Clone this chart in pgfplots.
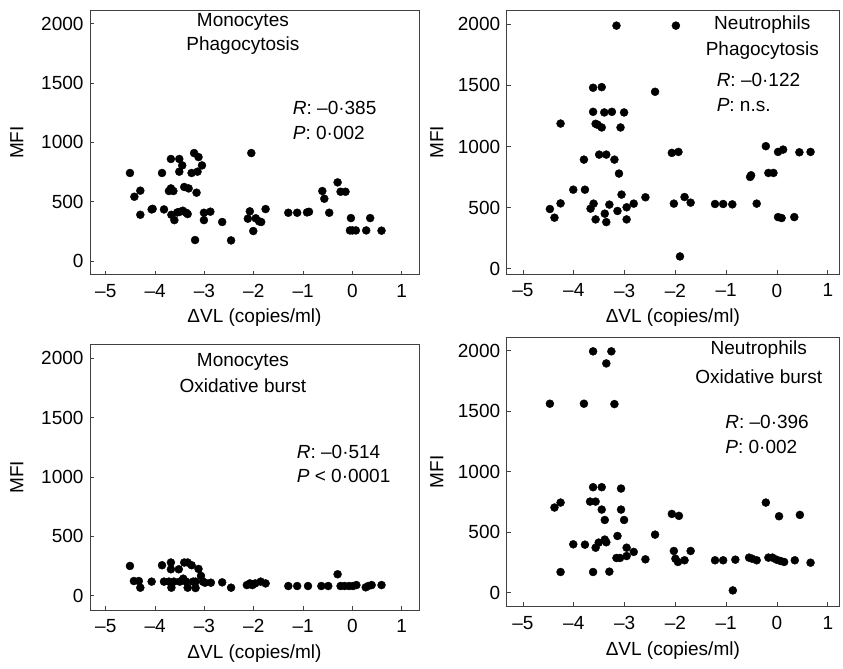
\documentclass[border=0pt]{standalone}
\usepackage{fontspec}
\setmainfont{Liberation Sans}
\usepackage{pgfplots}
\pgfplotsset{compat=1.18}

\pgfplotsset{
  panel/.style={
    scale only axis, anchor=south west,
    xmin=-5.32, xmax=1.35,
    tick align=inside, tick pos=left,
    major tick length=4pt,
    axis line style={black!75, line width=0.9pt},
    tick style={black!75, line width=0.9pt},
    xtick={-5,-4,-3,-2,-1,0,1},
    xticklabels={–5,–4,–3,–2,–1,0,1},
    ytick={0,500,1000,1500,2000},
    yticklabels={0,500,1000,1500,2000},
    xticklabel style={yshift=-3pt},
    xlabel={ΔVL (copies/ml)},
    ylabel={MFI},
    xlabel style={at={(axis description cs:0.5,-0.163)}, anchor=center},
    ylabel style={at={(axis description cs:-0.222,0.5)}, anchor=center},
    clip=false,
  },
  dots/.style={only marks, mark=*, mark size=4pt, black},
}

\begin{document}
\fontsize{19}{22}\selectfont
\begin{tikzpicture}
\path (0,0) rectangle (843pt,661pt);

% top left
\begin{axis}[panel, at={(90pt,386.3pt)}, width=329pt, height=264.4pt,
  ymin=-115, ymax=2113]
\addplot[dots] coordinates {
(-4.51,742) (-4.42,542) (-4.30,593) (-4.30,390) (-4.07,435) (-4.05,440)
(-3.86,742) (-3.82,435) (-3.72,590) (-3.68,612) (-3.63,590) (-3.68,860)
(-3.67,390) (-3.61,345) (-3.55,410) (-3.51,413) (-3.44,424) (-3.37,407)
(-3.34,396) (-3.51,860) (-3.45,806) (-3.51,753) (-3.41,624) (-3.32,612)
(-3.26,742) (-3.21,910) (-3.12,876) (-3.05,806) (-3.14,753) (-3.19,177)
(-3.16,576) (-3.01,407) (-3.01,345) (-2.88,416) (-2.64,329) (-2.46,174)
(-2.12,357) (-2.08,419) (-2.05,910) (-2.01,253) (-1.96,360) (-1.89,334)
(-1.85,329) (-1.76,438) (-1.30,407) (-1.12,407) (-0.92,410) (-0.88,415)
(-0.61,590) (-0.57,525) (-0.47,407) (-0.30,663) (-0.24,584) (-0.14,584)
(-0.03,362) (-0.05,258) (0.00,258) (0.07,258) (0.28,258) (0.36,362)
(0.59,256)
};
\node at (axis cs:-2.22,2015) {Monocytes};
\node at (axis cs:-2.22,1812) {Phagocytosis};
\node[anchor=west, inner sep=0pt] at (axis cs:-1.21,1290) {\textit{R}: –0·385};
\node[anchor=west, inner sep=0pt] at (axis cs:-1.21,1077) {\textit{P}: 0·002};
\end{axis}

% top right
\begin{axis}[panel, at={(506.7pt,386.7pt)}, width=332.3pt, height=264.3pt,
  xmax=1.22, ymin=-45, ymax=2117,
  ylabel style={at={(axis description cs:-0.21,0.5)}}]
\addplot[dots] coordinates {
(-4.47,489) (-4.38,418) (-4.26,535) (-4.26,1188) (-4.01,647) (-3.80,893)
(-3.78,647) (-3.67,492) (-3.61,533) (-3.62,1481) (-3.45,1486) (-3.62,1284)
(-3.57,1186) (-3.53,1178) (-3.45,1156) (-3.40,1279) (-3.25,1284) (-3.01,1279)
(-3.08,1156) (-3.50,934) (-3.36,934) (-3.20,893) (-3.11,779) (-3.06,607)
(-3.57,404) (-3.39,451) (-3.36,382) (-3.30,525) (-3.14,473) (-2.96,503)
(-2.96,404) (-2.82,533) (-2.59,585) (-3.16,1989) (-2.40,1448) (-1.99,1989)
(-2.07,948) (-1.94,956) (-2.03,533) (-1.91,101) (-1.82,587) (-1.70,541)
(-1.22,530) (-1.06,530) (-0.88,527) (-0.53,751) (-0.51,765) (-0.40,533)
(-0.22,1003) (-0.17,784) (-0.07,784) (0.02,956) (0.12,975) (0.02,423)
(0.09,415) (0.34,423) (0.44,953) (0.66,956)
};
\node at (axis cs:-0.29,1994) {Neutrophils};
\node at (axis cs:-0.29,1789) {Phagocytosis};
\node[anchor=west, inner sep=0pt] at (axis cs:-1.19,1545) {\textit{R}: –0·122};
\node[anchor=west, inner sep=0pt] at (axis cs:-1.19,1339) {\textit{P}: n.s.};
\end{axis}

% bottom left
\begin{axis}[panel, at={(90pt,51pt)}, width=329pt, height=265.3pt,
  ymin=-120, ymax=2115]
\addplot[dots] coordinates {
(-4.51,251) (-4.43,124) (-4.33,124) (-4.30,68) (-4.07,119) (-3.86,257)
(-3.82,119) (-3.68,280) (-3.68,223) (-3.72,119) (-3.62,119) (-3.67,68)
(-3.52,223) (-3.50,119) (-3.43,144) (-3.37,119) (-3.41,280) (-3.34,280)
(-3.34,68) (-3.26,257) (-3.12,226) (-3.23,119) (-3.18,119) (-3.07,167)
(-3.18,65) (-3.03,119) (-2.99,110) (-2.87,110) (-2.64,113) (-2.46,68)
(-2.14,90) (-2.08,104) (-2.03,90) (-1.97,104) (-1.86,119) (-1.76,104)
(-1.30,82) (-1.12,82) (-0.90,82) (-0.63,82) (-0.49,82) (-0.30,181)
(-0.24,82) (-0.16,82) (-0.07,82) (0.01,82) (0.08,90) (0.27,71)
(0.32,82) (0.39,90) (0.59,90)
};
\node at (axis cs:-2.22,1969) {Monocytes};
\node at (axis cs:-2.22,1767) {Oxidative burst};
\node[anchor=west, inner sep=0pt] at (axis cs:-1.13,1211) {\textit{R}: –0·514};
\node[anchor=west, inner sep=0pt] at (axis cs:-1.13,1009) {\textit{P} < 0·0001};
\end{axis}

% bottom right
\begin{axis}[panel, at={(506.7pt,54.5pt)}, width=332.3pt, height=269.2pt,
  xmax=1.22, ymin=-114, ymax=2111,
  ylabel style={at={(axis description cs:-0.21,0.5)}}]
\addplot[dots] coordinates {
(-4.47,1562) (-3.80,1562) (-3.20,1559) (-3.62,1995) (-3.26,1995) (-3.36,1895)
(-4.38,704) (-4.26,745) (-3.62,872) (-3.45,872) (-3.07,861) (-3.68,753)
(-3.57,753) (-3.45,687) (-3.07,687) (-3.39,601) (-3.01,601) (-4.01,400)
(-3.78,397) (-3.57,372) (-3.51,414) (-3.39,439) (-3.36,417) (-3.14,469)
(-2.96,372) (-2.96,303) (-2.82,337) (-3.16,287) (-3.09,287) (-2.59,276)
(-2.40,480) (-4.26,171) (-3.62,171) (-3.30,174) (-2.07,651) (-1.93,635)
(-2.03,345) (-2.00,281) (-1.95,254) (-1.82,268) (-1.70,345) (-1.22,268)
(-1.06,268) (-0.82,273) (-0.87,19) (-0.55,290) (-0.49,281) (-0.40,268)
(-0.22,745) (-0.17,290) (-0.09,290) (-0.01,273) (0.07,262) (0.14,254)
(0.04,632) (0.35,268) (0.45,643) (0.66,248)
};
\node at (axis cs:-0.36,2011) {Neutrophils};
\node at (axis cs:-0.36,1785) {Oxidative burst};
\node[anchor=west, inner sep=0pt] at (axis cs:-1.02,1412) {\textit{R}: –0·396};
\node[anchor=west, inner sep=0pt] at (axis cs:-1.02,1205) {\textit{P}: 0·002};
\end{axis}
\end{tikzpicture}
\end{document}
